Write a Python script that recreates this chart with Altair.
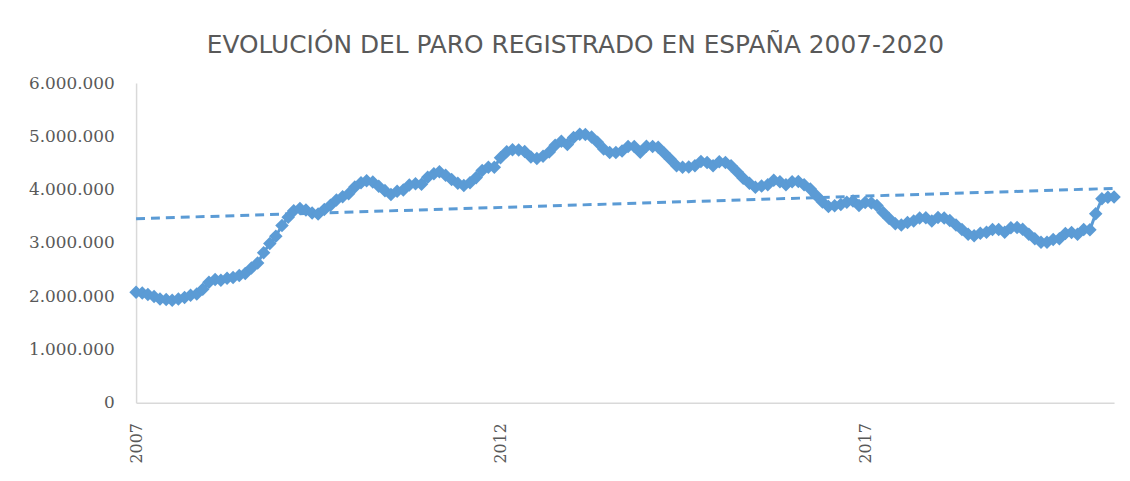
import altair as alt
import pandas as pd

# Paro registrado mensual (enero 2007 - junio 2020)
paro_2007 = [2074000, 2059000, 2031000, 1996000, 1947000, 1937000, 1923000, 1950000, 1977000, 2018000, 2040000, 2130000]
paro_2008 = [2261000, 2315000, 2300000, 2338000, 2353000, 2390000, 2427000, 2530000, 2625000, 2818000, 2989000, 3128000]
paro_2009 = [3327000, 3481000, 3605000, 3645000, 3620000, 3564000, 3544000, 3629000, 3709000, 3808000, 3868000, 3923000]
paro_2010 = [4048000, 4130000, 4166000, 4142000, 4066000, 3982000, 3909000, 3970000, 3992000, 4086000, 4110000, 4100000]
paro_2011 = [4231000, 4299000, 4334000, 4269000, 4190000, 4122000, 4080000, 4130000, 4226000, 4360000, 4420000, 4422000]
paro_2012 = [4599000, 4712000, 4751000, 4744000, 4714000, 4615000, 4587000, 4625000, 4705000, 4834000, 4908000, 4848000]
paro_2013 = [4980000, 5040000, 5035000, 4989000, 4890000, 4763000, 4698000, 4699000, 4724000, 4811000, 4808000, 4701000]
paro_2014 = [4814000, 4812000, 4795000, 4684000, 4572000, 4449000, 4419000, 4427000, 4447000, 4527000, 4512000, 4448000]
paro_2015 = [4526000, 4512000, 4451000, 4333000, 4215000, 4120000, 4046000, 4067000, 4094000, 4176000, 4149000, 4094000]
paro_2016 = [4150000, 4153000, 4094000, 4011000, 3891000, 3767000, 3683000, 3697000, 3721000, 3764000, 3789000, 3702000]
paro_2017 = [3760000, 3750000, 3702000, 3573000, 3461000, 3362000, 3335000, 3382000, 3410000, 3467000, 3475000, 3412000]
paro_2018 = [3476000, 3470000, 3422000, 3335000, 3252000, 3162000, 3135000, 3182000, 3202000, 3254000, 3252000, 3202000]
paro_2019 = [3285000, 3289000, 3255000, 3163000, 3079000, 3015000, 3011000, 3065000, 3079000, 3177000, 3198000, 3164000]
paro_2020 = [3253000, 3246000, 3548000, 3831000, 3858000, 3863000]

paro = (paro_2007 + paro_2008 + paro_2009 + paro_2010 + paro_2011 + paro_2012 + paro_2013
        + paro_2014 + paro_2015 + paro_2016 + paro_2017 + paro_2018 + paro_2019 + paro_2020)
fechas = pd.date_range("2007-01-01", periods=len(paro), freq="MS")

tick_years = [2007, 2012, 2017]
y_ticks = [0, 1000000, 2000000, 3000000, 4000000, 5000000, 6000000]

df = pd.DataFrame({"fecha": fechas.strftime("%Y-%m-%d"), "paro": paro})

color = "#5B9BD5"

x_enc = alt.X(
    "fecha:T",
    scale=alt.Scale(domain=[df["fecha"].iloc[0], df["fecha"].iloc[-1]], nice=False),
    axis=alt.Axis(
        title=None,
        values=[alt.DateTime(year=y, month=1, date=1) for y in tick_years],
        format="%Y",
        labelAngle=-90,
        labelFont="DejaVu Serif",
        labelFontSize=16,
        labelColor="#595959",
        labelPadding=20,
        ticks=False,
        grid=False,
        domainColor="#D9D9D9",
        domainWidth=1.5,
    ),
)
y_enc = alt.Y(
    "paro:Q",
    scale=alt.Scale(domain=[0, 6000000], nice=False),
    axis=alt.Axis(
        title=None,
        values=y_ticks,
        labelExpr="replace(format(datum.value, ','), /,/g, '.')",
        labelFont="DejaVu Serif",
        labelFontSize=17,
        labelColor="#595959",
        labelPadding=22,
        ticks=False,
        grid=False,
        domainColor="#D9D9D9",
        domainWidth=1.5,
    ),
)

base = alt.Chart(df)

line = base.mark_line(color=color, strokeWidth=3).encode(x=x_enc, y=y_enc)
points = base.mark_point(shape="diamond", filled=True, color=color, size=185, opacity=1).encode(x=x_enc, y=y_enc)
trend = base.transform_regression("fecha", "paro", method="linear").mark_line(
    color=color, strokeWidth=3, strokeDash=[9, 6]
).encode(x=x_enc, y=y_enc)

chart = (
    alt.layer(trend, line, points)
    .properties(
        width=985,
        height=322,
        padding={"left": 129, "top": 74, "right": 8, "bottom": 60},
        autosize=alt.AutoSizeParams(type="none"),
        title=alt.Title(
            "EVOLUCIÓN DEL PARO REGISTRADO  EN ESPAÑA 2007-2020",
            font="DejaVu Sans",
            fontSize=25,
            fontWeight="normal",
            color="#595959",
            offset=16,
            anchor="middle",
            dx=-50,
        ),
    )
    .configure_view(stroke=None)
)

chart.save("out.html", embed_options={"renderer": "svg", "actions": False})
